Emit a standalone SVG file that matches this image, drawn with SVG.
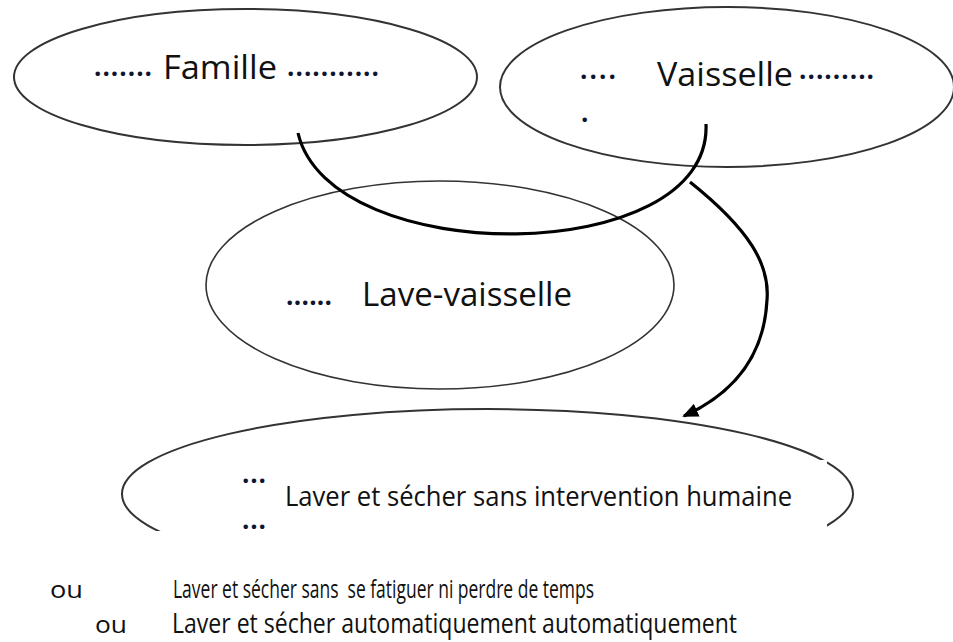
<svg xmlns="http://www.w3.org/2000/svg" width="953" height="642" viewBox="0 0 953 642">
<style>
.node{fill:none;stroke:#333;stroke-width:2}
.thin{fill:none;stroke:#333;stroke-width:1.6}
.lbl{font-family:"Open Sans","Noto Sans",sans-serif;fill:#111}
.dots{font-family:"Open Sans","Noto Sans",sans-serif;fill:#0d1530;font-size:26px;font-weight:bold}
.cal{font-family:"Open Sans","Noto Sans",sans-serif;fill:#111}
.conn{fill:none;stroke:#000;stroke-width:3.2}
</style>
<defs>
<marker id="arrow" markerUnits="userSpaceOnUse" viewBox="0 0 16 14" refX="14" refY="7" markerWidth="16" markerHeight="14" orient="auto">
<path d="M0,0 L16,7 L0,14 z" fill="#000"/>
</marker>
<clipPath id="clipBottom">
<path d="M0,0 H953 V642 H827 V460 H240 V531 H0 Z"/>
</clipPath>
</defs>
<rect width="953" height="642" fill="#fff"/>

<g id="famille">
<ellipse class="node" cx="245.5" cy="77" rx="231.5" ry="68"/>
<text class="dots" x="94" y="76" textLength="58">.......</text>
<text class="lbl" x="163" y="79" font-size="32" textLength="114" lengthAdjust="spacingAndGlyphs">Famille</text>
<text class="dots" x="287" y="76" textLength="92">...........</text>
</g>

<g id="vaisselle">
<ellipse class="node" cx="727" cy="87" rx="227" ry="80"/>
<text class="dots" x="580" y="79" textLength="36">....</text>
<text class="lbl" x="657" y="86" font-size="32" textLength="136" lengthAdjust="spacingAndGlyphs">Vaisselle</text>
<text class="dots" x="799" y="79" textLength="75">.........</text>
<text class="dots" x="581" y="122">.</text>
</g>

<g id="lave-vaisselle">
<ellipse class="thin" cx="440" cy="285" rx="234" ry="104"/>
<text class="dots" x="286" y="305" textLength="46">......</text>
<text class="lbl" x="362" y="306" font-size="32" textLength="210" lengthAdjust="spacingAndGlyphs">Lave-vaisselle</text>
</g>

<g id="fonction">
<ellipse class="node" cx="487.5" cy="494" rx="365.5" ry="85" clip-path="url(#clipBottom)"/>
<text class="dots" x="242" y="483" textLength="24">...</text>
<text class="cal" x="285" y="506" font-size="27" textLength="507" lengthAdjust="spacingAndGlyphs">Laver et sécher sans intervention humaine</text>
<text class="dots" x="242" y="529" textLength="24">...</text>
</g>

<g id="alternatives">
<text class="lbl" x="50" y="598" font-size="24" textLength="33" lengthAdjust="spacingAndGlyphs">ou</text>
<text class="cal" x="173" y="598" font-size="25" textLength="421" lengthAdjust="spacingAndGlyphs" xml:space="preserve" style="white-space:pre">Laver et sécher sans  se fatiguer ni perdre de temps</text>
<text class="lbl" x="95" y="633" font-size="24" textLength="32" lengthAdjust="spacingAndGlyphs">ou</text>
<text class="cal" x="172" y="633" font-size="27" textLength="565" lengthAdjust="spacingAndGlyphs">Laver et sécher automatiquement automatiquement</text>
</g>

<g id="connectors">
<path class="conn" d="M298,133 C330,270 712,268 706,124"/>
<path class="conn" d="M690,182 C750,230 770,265 767,300 C764,360 730,395 684,416" marker-end="url(#arrow)"/>
</g>
</svg>
